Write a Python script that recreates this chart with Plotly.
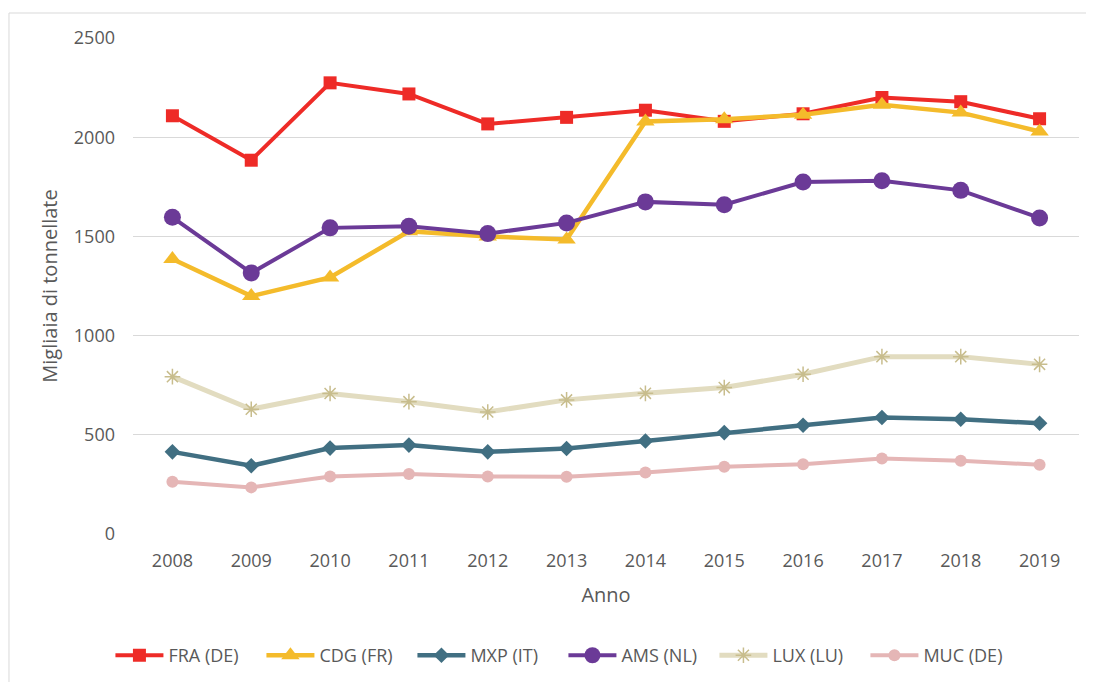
import plotly.graph_objects as go

years = ["2008", "2009", "2010", "2011", "2012", "2013", "2014", "2015", "2016", "2017", "2018", "2019"]

fra = [2108, 1884, 2274, 2218, 2067, 2100, 2136, 2080, 2118, 2200, 2179, 2093]
cdg = [1386, 1199, 1293, 1526, 1500, 1484, 2079, 2091, 2113, 2163, 2124, 2029]
mxp = [414, 344, 433, 448, 414, 431, 469, 511, 548, 587, 578, 558]
ams = [1596, 1316, 1543, 1551, 1514, 1568, 1674, 1660, 1774, 1781, 1732, 1593]
lux = [793, 629, 708, 667, 615, 676, 709, 738, 805, 894, 894, 855]
muc = [263, 235, 290, 302, 290, 289, 310, 339, 352, 381, 369, 349]

names = ["FRA (DE)", "CDG (FR)", "MXP (IT)", "AMS (NL)", "LUX (LU)", "MUC (DE)"]

FONT = "Open Sans"
TXT = "#595959"

series = [
    (fra, names[0], "#EE2B27", 4, dict(symbol="square", size=13, color="#EE2B27")),
    (cdg, names[1], "#F4BB2B", 4.5, dict(symbol="triangle-up", size=16, color="#F4BB2B")),
    (mxp, names[2], "#416F82", 4.5, dict(symbol="diamond", size=12, color="#416F82")),
    (ams, names[3], "#6B3A97", 4, dict(symbol="circle", size=17, color="#6B3A97")),
    (lux, names[4], "#E2DCC0", 5, dict(symbol="asterisk-open", size=13, color="#C8BD8D",
                                      line=dict(color="#C8BD8D", width=1.5))),
    (muc, names[5], "#E5B6B6", 4, dict(symbol="circle", size=12, color="#E5B6B6")),
]

fig = go.Figure()
for vals, nm, col, lw, mk in series:
    fig.add_trace(go.Scatter(
        x=years, y=vals, name=nm, mode="lines+markers",
        line=dict(color=col, width=lw), marker=mk,
    ))

fig.update_layout(
    width=1094, height=682,
    margin=dict(l=125, r=23, t=30, b=156, autoexpand=False),
    paper_bgcolor="white", plot_bgcolor="white",
    font=dict(family=FONT, size=18, color=TXT),
    showlegend=True,
    legend=dict(orientation="h", x=0.455, xanchor="center", y=-0.245, yanchor="middle",
                font=dict(family=FONT, size=18, color=TXT), entrywidth=88,
                itemwidth=48, bgcolor="rgba(0,0,0,0)"),
    xaxis=dict(type="category", range=[-0.5, 11.5], showgrid=False, showline=False,
               zeroline=False, ticks="", ticklabelstandoff=14,
               title=dict(text="Anno", font=dict(family=FONT, size=20, color=TXT), standoff=16),
               tickfont=dict(family=FONT, size=18, color=TXT)),
    yaxis=dict(range=[0, 2500], tickvals=[0, 500, 1000, 1500, 2000, 2500],
               showgrid=True, gridcolor="#D9D9D9", gridwidth=1, zeroline=False,
               showline=False, ticks="", ticklabelstandoff=17,
               title=dict(text="Migliaia di tonnellate", font=dict(family=FONT, size=20, color=TXT),
                          standoff=10),
               tickfont=dict(family=FONT, size=18, color=TXT)),
    shapes=[dict(type="rect", xref="paper", yref="paper",
                 x0=-0.1311, x1=1.03, y0=-0.32, y1=1.0504,
                 line=dict(color="#D9D9D9", width=1), fillcolor="rgba(0,0,0,0)", layer="below")],
)

fig.write_html("out.html")
